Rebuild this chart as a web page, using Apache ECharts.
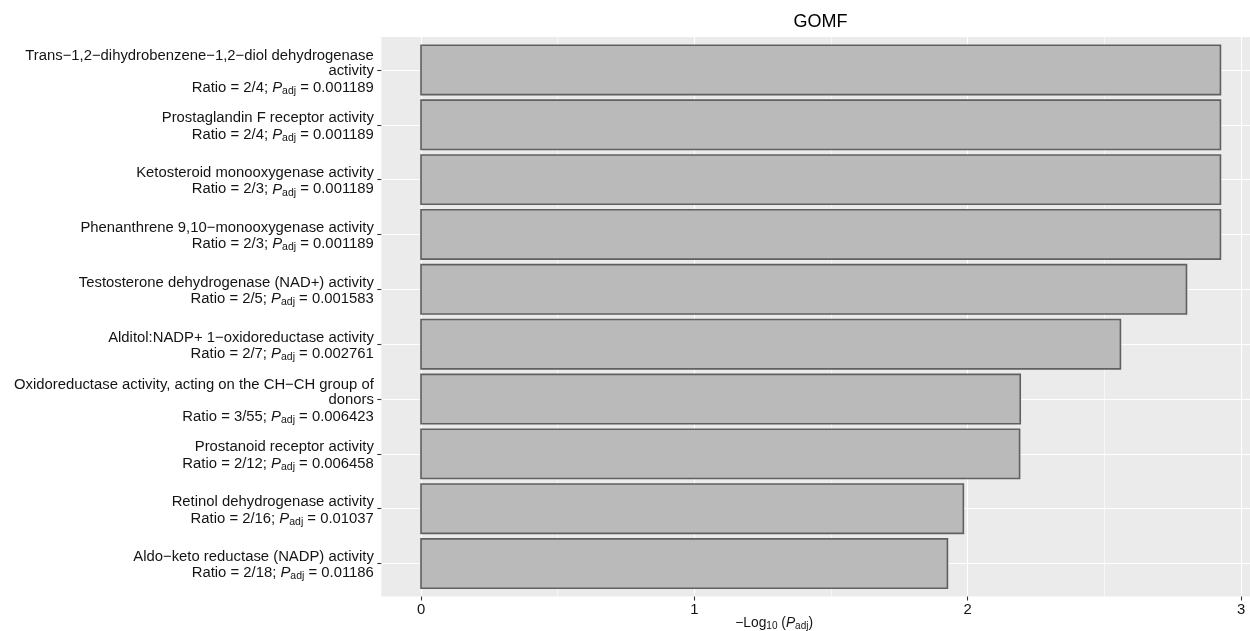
<!DOCTYPE html>
<html><head><meta charset="utf-8">
<script src="https://cdn.jsdelivr.net/npm/echarts@6/dist/echarts.min.js"></script>
<style>html,body{margin:0;padding:0;background:#fff}#c{width:1250px;height:631px}</style>
</head><body><div id="c"></div>
<script>
const termNames = [
  "Trans−1,2−dihydrobenzene−1,2−diol dehydrogenase\nactivity",
  "Prostaglandin F receptor activity",
  "Ketosteroid monooxygenase activity",
  "Phenanthrene 9,10−monooxygenase activity",
  "Testosterone dehydrogenase (NAD+) activity",
  "Alditol:NADP+ 1−oxidoreductase activity",
  "Oxidoreductase activity, acting on the CH−CH group of\ndonors",
  "Prostanoid receptor activity",
  "Retinol dehydrogenase activity",
  "Aldo−keto reductase (NADP) activity"
];
const ratios = ["2/4","2/4","2/3","2/3","2/5","2/7","3/55","2/12","2/16","2/18"];
const padjLabels = ["0.001189","0.001189","0.001189","0.001189","0.001583","0.002761","0.006423","0.006458","0.01037","0.01186"];
const negLogPadj = [2.9248,2.9248,2.9248,2.9248,2.8005,2.5589,2.1923,2.1899,1.9842,1.9259];
const xTicks = [0,1,2,3];
const xMinorTicks = [0.5,1.5,2.5];
const yPositions = [0,1,2,3,4,5,6,7,8,9];

const FONT = '"Liberation Sans", Arial, Helvetica, sans-serif';
const TXT = '#141414';
const FS = 14.85;

function yLabel(v) {
  const i = Math.round(v);
  const nameLines = termNames[i].split('\n').map(s => '{n|' + s + '}').join('\n');
  return nameLines + '\n{r|Ratio = ' + ratios[i] + '; }{p|P}{s|adj}{r| = ' + padjLabels[i] + '}';
}

const chart = echarts.init(document.getElementById('c'), null, {renderer: 'canvas'});
chart.setOption({
  animation: false,
  backgroundColor: '#ffffff',
  title: {
    text: 'GOMF', left: 820.5, top: 13, padding: 0, textAlign: 'center',
    textStyle: {fontFamily: FONT, fontSize: 18, fontWeight: 'normal', color: '#000'}
  },
  grid: {
    left: 381.3, right: 0, top: 37, bottom: 34.5,
    show: true, backgroundColor: '#EBEBEB', borderWidth: 0,
    containLabel: false, outerBoundsMode: 'none'
  },
  xAxis: [{
    type: 'value', min: -0.1453, max: 3.0329,
    axisLine: {show: false, onZero: false},
    axisTick: {show: true, length: 4, customValues: xTicks, lineStyle: {color: '#333', width: 1.1}},
    axisLabel: {customValues: xTicks, margin: 5.5, fontFamily: FONT, fontSize: FS, color: TXT},
    splitLine: {show: true, lineStyle: {color: '#ffffff', width: 1.1}},
    name: '{n|−Log}{s|10}{n| (}{p|P}{s|adj}{n|)}',
    nameLocation: 'middle', nameGap: 19, nameMoveOverlap: false,
    nameTextStyle: {
      padding: [0, 83, 0, 0],
      rich: {
        n: {fontFamily: FONT, fontSize: 13.8, color: TXT, lineHeight: 16},
        p: {fontFamily: FONT, fontSize: 13.8, fontStyle: 'italic', color: TXT, lineHeight: 16},
        s: {fontFamily: FONT, fontSize: 10, color: TXT, lineHeight: 9, verticalAlign: 'bottom'}
      }
    }
  }, {
    type: 'value', min: -0.1453, max: 3.0329, position: 'bottom',
    axisLine: {show: false, onZero: false},
    axisTick: {show: false, customValues: xMinorTicks},
    axisLabel: {show: false, customValues: xMinorTicks},
    splitLine: {show: true, lineStyle: {color: '#ffffff', width: 0.6}}
  }],
  yAxis: {
    type: 'value', min: -0.6, max: 9.6, inverse: true,
    axisLine: {show: false, onZero: false},
    axisTick: {show: true, length: 4, customValues: yPositions, lineStyle: {color: '#333', width: 1.1}},
    axisLabel: {
      customValues: yPositions, margin: 7.5, formatter: yLabel, align: 'right',
      padding: [4, 0, 0, 0],
      fontFamily: FONT, fontSize: FS, color: TXT,
      rich: {
        n: {fontFamily: FONT, fontSize: FS, color: TXT, lineHeight: 15.5, align: 'right'},
        r: {fontFamily: FONT, fontSize: FS, color: TXT, lineHeight: 17.5, align: 'right'},
        p: {fontFamily: FONT, fontSize: FS, fontStyle: 'italic', color: TXT, lineHeight: 17.5},
        s: {fontFamily: FONT, fontSize: 10.5, color: TXT, lineHeight: 10, verticalAlign: 'bottom'}
      }
    },
    splitLine: {show: true, lineStyle: {color: '#ffffff', width: 1.1}}
  },
  series: [{
    type: 'custom',
    xAxisIndex: 0, yAxisIndex: 0,
    data: negLogPadj.map((v, i) => [v, i]),
    encode: {x: 0, y: 1},
    renderItem: function (params, api) {
      const v = api.value(0), i = api.value(1);
      const p0 = api.coord([0, i - 0.45]);
      const p1 = api.coord([v, i + 0.45]);
      return {
        type: 'rect',
        shape: {x: p0[0], y: p0[1], width: p1[0] - p0[0], height: p1[1] - p0[1]},
        style: {fill: '#BABABA', stroke: '#606060', lineWidth: 1.6}
      };
    }
  }]
});
</script>
</body></html>
